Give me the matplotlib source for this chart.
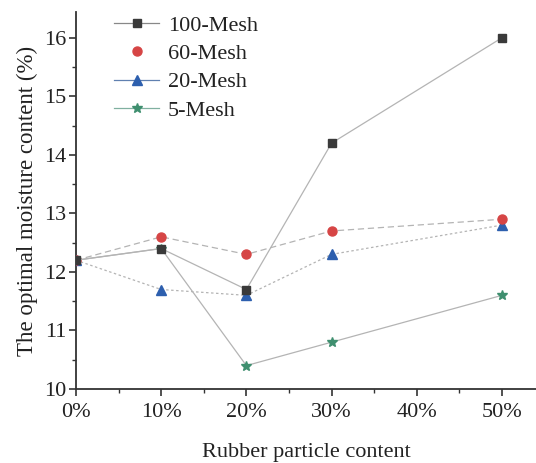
import matplotlib
matplotlib.use("Agg")
import matplotlib.pyplot as plt
from matplotlib.lines import Line2D
from matplotlib.ticker import MultipleLocator, FuncFormatter

plt.rcParams['font.family'] = ['Liberation Serif', 'DejaVu Serif']

content = [0, 10, 20, 30, 50]
mesh100 = [12.2, 12.4, 11.7, 14.2, 16.0]
mesh60 = [12.2, 12.6, 12.3, 12.7, 12.9]
mesh20 = [12.2, 11.7, 11.6, 12.3, 12.8]
mesh5 = [12.2, 12.4, 10.4, 10.8, 11.6]
labels = ['100-Mesh', '60-Mesh', '20-Mesh', '5-Mesh']

fig = plt.figure(figsize=(5.36, 4.63), dpi=100)
ax = fig.add_axes([0.1418, 0.1598, 0.8582, 0.8142])

lc = '#b4b4b4'
ax.plot(content, mesh5, color=lc, lw=0.9, ls='-', marker='*', ms=7,
        mfc='#3f8f6f', mec='#3f8f6f', zorder=2)
ax.plot(content, mesh20, color=lc, lw=0.9, ls=(0, (2, 2)), marker='^', ms=6.5,
        mfc='#2d5fae', mec='#2d5fae', zorder=3)
ax.plot(content, mesh60, color=lc, lw=0.9, ls=(0, (5, 3)), marker='o', ms=6.5,
        mfc='#d64545', mec='#d64545', zorder=3)
ax.plot(content, mesh100, color=lc, lw=0.9, ls='-', marker='s', ms=5.5,
        mfc='#3a3a3a', mec='#3a3a3a', zorder=4)

ax.set_xlim(0, 54)
ax.set_ylim(10, 16.44)
ax.xaxis.set_major_locator(MultipleLocator(10))
ax.xaxis.set_minor_locator(MultipleLocator(5))
ax.yaxis.set_major_locator(MultipleLocator(1))
ax.yaxis.set_minor_locator(MultipleLocator(0.5))
ax.xaxis.set_major_formatter(FuncFormatter(lambda v, p: f"{int(v)}%"))
ax.spines['top'].set_visible(False)
ax.spines['right'].set_visible(False)
for s in ('left', 'bottom'):
    ax.spines[s].set_linewidth(1.3)
    ax.spines[s].set_color('#333333')
ax.tick_params(which='major', direction='out', length=5, width=1.2, labelsize=16,
               colors='#333333', labelcolor='#222222', pad=2)
ax.tick_params(axis='x', which='major', pad=5)
ax.tick_params(which='minor', direction='out', length=3, width=1.0, colors='#333333')

ax.set_xlabel('Rubber particle content', fontsize=16, color='#222222', labelpad=15)
ax.set_ylabel('The optimal moisture content (%)', fontsize=16.5, color='#222222', labelpad=4)

handles = [
    Line2D([], [], color='#888888', lw=0.9, marker='s', ms=5.5, mfc='#3a3a3a', mec='#3a3a3a'),
    Line2D([], [], color='none', lw=0, marker='o', ms=6.5, mfc='#d64545', mec='#d64545'),
    Line2D([], [], color='#6080b0', lw=0.9, marker='^', ms=6.5, mfc='#2d5fae', mec='#2d5fae'),
    Line2D([], [], color='#80b0a0', lw=0.9, marker='*', ms=7, mfc='#3f8f6f', mec='#3f8f6f'),
]
ax.legend(handles, labels, loc='upper left', bbox_to_anchor=(0.04, 1.045), frameon=False,
          fontsize=16, labelspacing=0.35, handlelength=2.0, handletextpad=0.4,
          labelcolor='#222222')

fig.savefig('out.png', dpi=100)
